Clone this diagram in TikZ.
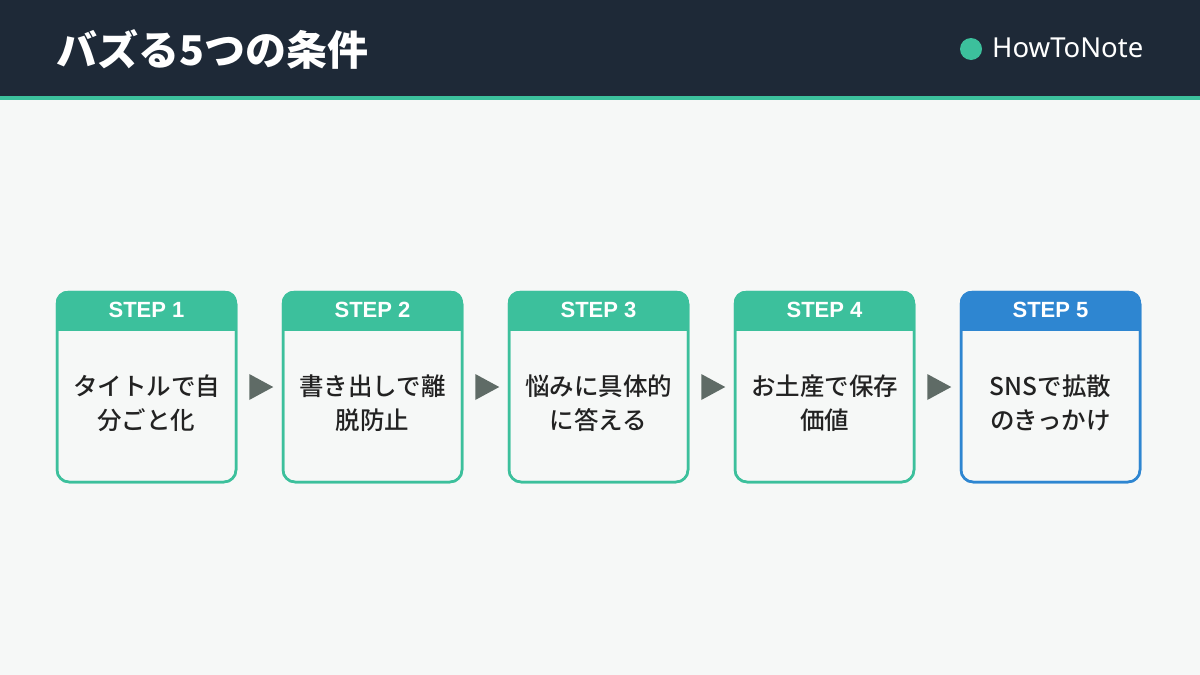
\documentclass[tikz,border=0pt]{standalone}
\usepackage{fontspec}
\newfontfamily\jp{Noto Sans CJK JP}
\newfontfamily\jpm{Noto Sans CJK JP}[UprightFont=* Medium]
\newfontfamily\lat{Liberation Sans}
\newfontfamily\brandfont{Noto Sans}
\usetikzlibrary{calc}
\definecolor{bg}{HTML}{F6F8F7}
\definecolor{dark}{HTML}{1E2937}
\definecolor{accent}{HTML}{3CC09C}
\definecolor{blue5}{HTML}{2E86D1}
\definecolor{arrowgray}{HTML}{5F6B66}
\definecolor{bodytext}{HTML}{222222}
\tikzset{
  stepbox/.style={draw, line width=2.5pt, rounded corners=12pt, minimum width=179pt, minimum height=190pt, inner sep=0pt},
  steplabel/.style={text=white, font=\lat\bfseries\fontsize{22}{26}\selectfont},
  bodylabel/.style={text=bodytext, align=center, font=\jpm\fontsize{24.5}{34}\selectfont},
}
\begin{document}
\begin{tikzpicture}[x=1pt,y=-1pt]
\useasboundingbox (0,0) rectangle (1200,675);
\fill[bg] (0,0) rectangle (1200,675);
\fill[dark] (0,0) rectangle (1200,96);
\fill[accent] (0,96) rectangle (1200,100);
\node[anchor=west, inner sep=0pt, text=white, font=\jp\bfseries\fontsize{41}{45}\selectfont] (title) at (56,49) {バズる5つの条件};
\node[circle, fill=accent, minimum size=22pt, inner sep=0pt] (dot) at (971,49) {};
\node[anchor=west, inner sep=0pt, text=white, font=\brandfont\fontsize{27.5}{31}\selectfont] (brand) at (992,48) {HowToNote};
\foreach \i/\col/\la/\lb in {1/accent/タイトルで自/分ごと化, 2/accent/書き出しで離/脱防止, 3/accent/悩みに具体的/に答える, 4/accent/お土産で保存/価値, 5/blue5/SNSで拡散/のきっかけ}{
  \node[stepbox, draw=\col] (s\i) at ({146.5+226*(\i-1)},387) {};
  \begin{scope}
    \clip[rounded corners=12pt] (s\i.north west) rectangle (s\i.south east);
    \fill[\col] (s\i.north west) rectangle ($(s\i.north east)+(0,40)$);
  \end{scope}
  \node[stepbox, draw=\col] at (s\i) {};
  \node[steplabel] (h\i) at ($(s\i.north)+(0,19.5)$) {STEP \i};
  \node[bodylabel] (t\i) at ($(s\i.center)+(0,16)$) {\la\\\lb};
}
\foreach \i in {1,...,4}{
  \fill[arrowgray] ($(s\i.east)+(12,-13)$) -- ($(s\i.east)+(36,0)$) -- ($(s\i.east)+(12,13)$) -- cycle;
}
\end{tikzpicture}
\end{document}
